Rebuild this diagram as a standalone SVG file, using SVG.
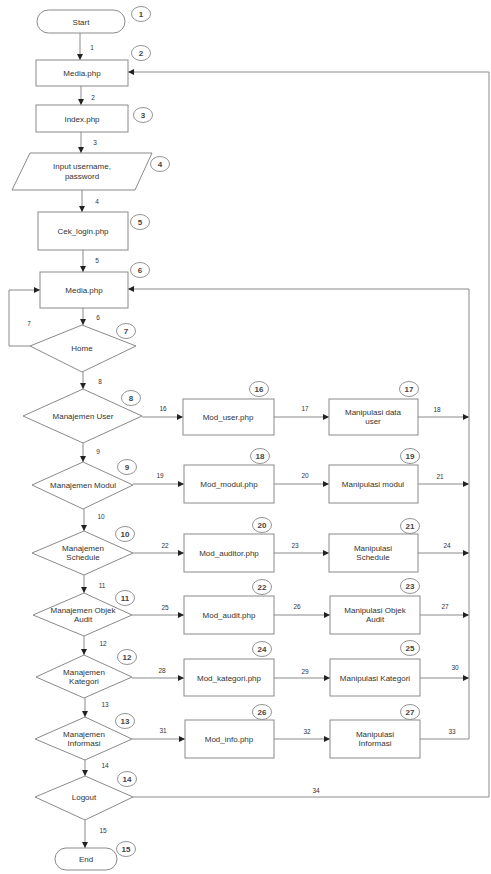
<svg xmlns="http://www.w3.org/2000/svg" width="491" height="874" viewBox="0 0 491 874">
<style>
.b{fill:#fff;stroke:#8a8a8a;stroke-width:1}
.t{font-family:"Liberation Sans",Arial,sans-serif;font-size:8px;fill:#333;text-anchor:middle}
.n{font-family:"Liberation Sans",Arial,sans-serif;font-size:6.5px;fill:#333;text-anchor:middle}
.c{fill:#fff;stroke:#888;stroke-width:0.9}
.ct{font-family:"Liberation Sans",Arial,sans-serif;font-size:8px;font-weight:bold;fill:#444;text-anchor:middle}
.l{fill:none;stroke:#8a8a8a;stroke-width:1}
.a{marker-end:url(#ah)}
</style>
<defs>
<marker id="ah" viewBox="0 0 10 10" refX="10" refY="5" markerWidth="6" markerHeight="6" orient="auto" markerUnits="userSpaceOnUse">
<path d="M0,0 L10,5 L0,10 z" fill="#222"/>
</marker>
</defs>
<rect width="491" height="874" fill="#fff"/>
<g id="connectors">
<line class="l a" x1="80" y1="33" x2="80" y2="60"/>
<line class="l a" x1="81" y1="86" x2="81" y2="105"/>
<line class="l a" x1="81" y1="132" x2="81" y2="153"/>
<line class="l a" x1="82" y1="190" x2="82" y2="212"/>
<line class="l a" x1="83" y1="250" x2="83" y2="272"/>
<line class="l a" x1="83" y1="308" x2="83" y2="325"/>
<polyline class="l a" points="30,346 9,346 9,290 40,290"/>
<line class="l a" x1="83" y1="372" x2="83" y2="389"/>
<line class="l a" x1="83" y1="443" x2="83" y2="462"/>
<line class="l a" x1="84" y1="509" x2="84" y2="531"/>
<line class="l a" x1="84" y1="575" x2="84" y2="593"/>
<line class="l a" x1="84" y1="636" x2="84" y2="655"/>
<line class="l a" x1="85" y1="698" x2="85" y2="717"/>
<line class="l a" x1="85" y1="760" x2="85" y2="776"/>
<line class="l a" x1="85" y1="820" x2="85" y2="848"/>
<line class="l a" x1="142" y1="417" x2="183" y2="417"/>
<line class="l a" x1="274" y1="417" x2="329" y2="417"/>
<line class="l a" x1="418" y1="417" x2="469" y2="417"/>
<line class="l a" x1="133" y1="484" x2="184" y2="484"/>
<line class="l a" x1="274" y1="484" x2="329" y2="484"/>
<line class="l a" x1="418" y1="484" x2="469" y2="484"/>
<line class="l a" x1="133" y1="553" x2="184" y2="553"/>
<line class="l a" x1="274" y1="553" x2="329" y2="553"/>
<line class="l a" x1="418" y1="553" x2="469" y2="553"/>
<line class="l a" x1="132" y1="615" x2="184" y2="615"/>
<line class="l a" x1="274" y1="615" x2="330" y2="615"/>
<line class="l a" x1="420" y1="615" x2="469" y2="615"/>
<line class="l a" x1="132" y1="678" x2="184" y2="678"/>
<line class="l a" x1="274" y1="678" x2="330" y2="678"/>
<line class="l a" x1="420" y1="678" x2="469" y2="678"/>
<line class="l a" x1="132" y1="739" x2="185" y2="739"/>
<line class="l a" x1="274" y1="739" x2="330" y2="739"/>
<polyline class="l a" points="420,739 469,739 469,289 128,289"/>
<polyline class="l a" points="133,797 489,797 489,72 128,72"/>
<text class="n" x="92" y="50">1</text>
<text class="n" x="93" y="100">2</text>
<text class="n" x="95" y="145">3</text>
<text class="n" x="97" y="204">4</text>
<text class="n" x="97" y="263">5</text>
<text class="n" x="98" y="320">6</text>
<text class="n" x="29" y="326">7</text>
<text class="n" x="100" y="384">8</text>
<text class="n" x="98" y="454">9</text>
<text class="n" x="101" y="519">10</text>
<text class="n" x="102" y="588">11</text>
<text class="n" x="103" y="646">12</text>
<text class="n" x="105" y="707">13</text>
<text class="n" x="105" y="768">14</text>
<text class="n" x="103" y="833">15</text>
<text class="n" x="163" y="411">16</text>
<text class="n" x="305" y="411">17</text>
<text class="n" x="437" y="412">18</text>
<text class="n" x="160" y="478">19</text>
<text class="n" x="305" y="478">20</text>
<text class="n" x="440" y="479">21</text>
<text class="n" x="165" y="548">22</text>
<text class="n" x="295" y="548">23</text>
<text class="n" x="447" y="548">24</text>
<text class="n" x="165" y="610">25</text>
<text class="n" x="297" y="609">26</text>
<text class="n" x="445" y="609">27</text>
<text class="n" x="162" y="673">28</text>
<text class="n" x="305" y="674">29</text>
<text class="n" x="455" y="670">30</text>
<text class="n" x="163" y="733">31</text>
<text class="n" x="307" y="734">32</text>
<text class="n" x="452" y="734">33</text>
<text class="n" x="316" y="793">34</text>
</g>
<g id="n1"><rect class="b" x="37" y="10" width="88" height="23" rx="11.5"/><text class="t" x="81" y="24.5">Start</text><ellipse class="c" cx="141" cy="14" rx="9.5" ry="7.5"/><text class="ct" x="141" y="17">1</text></g>
<g id="n2"><rect class="b" x="36" y="60" width="92" height="26"/><text class="t" x="82" y="76">Media.php</text><ellipse class="c" cx="141" cy="53" rx="9.5" ry="7.5"/><text class="ct" x="141" y="56">2</text></g>
<g id="n3"><rect class="b" x="36" y="105" width="92" height="27"/><text class="t" x="82" y="121.5">Index.php</text><ellipse class="c" cx="143" cy="115" rx="9.5" ry="7.5"/><text class="ct" x="143" y="118">3</text></g>
<g id="n4"><polygon class="b" points="30,153 152,153 135,190 12,190"/><text class="t" x="82" y="169">Input username,</text><text class="t" x="82" y="179">password</text><ellipse class="c" cx="160" cy="164" rx="9.5" ry="7.5"/><text class="ct" x="160" y="167">4</text></g>
<g id="n5"><rect class="b" x="38" y="212" width="90" height="38"/><text class="t" x="83" y="234">Cek_login.php</text><ellipse class="c" cx="140" cy="222" rx="9.5" ry="7.5"/><text class="ct" x="140" y="225">5</text></g>
<g id="n6"><rect class="b" x="40" y="272" width="88" height="36"/><text class="t" x="84" y="293">Media.php</text><ellipse class="c" cx="140" cy="270" rx="9.5" ry="7.5"/><text class="ct" x="140" y="273">6</text></g>
<g id="n7"><polygon class="b" points="82,325 136,346 82,372 30,346"/><text class="t" x="82" y="351">Home</text><ellipse class="c" cx="126" cy="331" rx="9.5" ry="7.5"/><text class="ct" x="126" y="334">7</text></g>
<g id="n8"><polygon class="b" points="83,389 142,416 83,443 23,416"/><text class="t" x="83" y="419">Manajemen User</text><ellipse class="c" cx="131" cy="398" rx="9.5" ry="7.5"/><text class="ct" x="131" y="401">8</text></g>
<g id="n9"><polygon class="b" points="83,462 133,485 83,509 32,485"/><text class="t" x="83" y="488">Manajemen Modul</text><ellipse class="c" cx="127" cy="467" rx="9.5" ry="7.5"/><text class="ct" x="127" y="470">9</text></g>
<g id="n10"><polygon class="b" points="84,531 133,553 84,575 32,553"/><text class="t" x="83" y="551">Manajemen</text><text class="t" x="83" y="560">Schedule</text><ellipse class="c" cx="125" cy="534" rx="9.5" ry="7.5"/><text class="ct" x="125" y="537">10</text></g>
<g id="n11"><polygon class="b" points="84,593 132,615 84,636 33,615"/><text class="t" x="83" y="613">Manajemen Objek</text><text class="t" x="83" y="622">Audit</text><ellipse class="c" cx="125" cy="598" rx="9.5" ry="7.5"/><text class="ct" x="125" y="601">11</text></g>
<g id="n12"><polygon class="b" points="84,655 132,677 84,698 36,677"/><text class="t" x="84" y="675">Manajemen</text><text class="t" x="84" y="684">Kategori</text><ellipse class="c" cx="127" cy="657" rx="9.5" ry="7.5"/><text class="ct" x="127" y="660">12</text></g>
<g id="n13"><polygon class="b" points="85,717 132,739 85,760 35,739"/><text class="t" x="84" y="737">Manajemen</text><text class="t" x="84" y="746">Informasi</text><ellipse class="c" cx="125" cy="721" rx="9.5" ry="7.5"/><text class="ct" x="125" y="724">13</text></g>
<g id="n14"><polygon class="b" points="85,776 133,797 85,820 35,797"/><text class="t" x="84" y="800">Logout</text><ellipse class="c" cx="127" cy="779" rx="9.5" ry="7.5"/><text class="ct" x="127" y="782">14</text></g>
<g id="n15"><rect class="b" x="55" y="848" width="62" height="22" rx="11"/><text class="t" x="86" y="862">End</text><ellipse class="c" cx="126" cy="849" rx="9.5" ry="7.5"/><text class="ct" x="126" y="852">15</text></g>
<g id="n16"><rect class="b" x="183" y="399" width="91" height="36"/><text class="t" x="228" y="420">Mod_user.php</text><ellipse class="c" cx="259" cy="389" rx="9.5" ry="7.5"/><text class="ct" x="259" y="392">16</text></g>
<g id="n17"><rect class="b" x="329" y="399" width="89" height="36"/><text class="t" x="373" y="415">Manipulasi data</text><text class="t" x="373" y="424">user</text><ellipse class="c" cx="409" cy="389" rx="9.5" ry="7.5"/><text class="ct" x="409" y="392">17</text></g>
<g id="n18"><rect class="b" x="184" y="465" width="90" height="38"/><text class="t" x="229" y="487">Mod_modul.php</text><ellipse class="c" cx="260" cy="456" rx="9.5" ry="7.5"/><text class="ct" x="260" y="459">18</text></g>
<g id="n19"><rect class="b" x="329" y="465" width="89" height="38"/><text class="t" x="373" y="487">Manipulasi modul</text><ellipse class="c" cx="410" cy="456" rx="9.5" ry="7.5"/><text class="ct" x="410" y="459">19</text></g>
<g id="n20"><rect class="b" x="184" y="534" width="90" height="38"/><text class="t" x="229" y="556">Mod_auditor.php</text><ellipse class="c" cx="262" cy="525" rx="9.5" ry="7.5"/><text class="ct" x="262" y="528">20</text></g>
<g id="n21"><rect class="b" x="329" y="534" width="89" height="38"/><text class="t" x="373" y="551">Manipulasi</text><text class="t" x="373" y="560">Schedule</text><ellipse class="c" cx="410" cy="526" rx="9.5" ry="7.5"/><text class="ct" x="410" y="529">21</text></g>
<g id="n22"><rect class="b" x="184" y="596" width="90" height="38"/><text class="t" x="229" y="618">Mod_audit.php</text><ellipse class="c" cx="262" cy="587" rx="9.5" ry="7.5"/><text class="ct" x="262" y="590">22</text></g>
<g id="n23"><rect class="b" x="330" y="596" width="90" height="38"/><text class="t" x="375" y="613">Manipulasi Objek</text><text class="t" x="375" y="622">Audit</text><ellipse class="c" cx="410" cy="586" rx="9.5" ry="7.5"/><text class="ct" x="410" y="589">23</text></g>
<g id="n24"><rect class="b" x="184" y="659" width="90" height="37"/><text class="t" x="229" y="681">Mod_kategori.php</text><ellipse class="c" cx="262" cy="649" rx="9.5" ry="7.5"/><text class="ct" x="262" y="652">24</text></g>
<g id="n25"><rect class="b" x="330" y="659" width="90" height="37"/><text class="t" x="375" y="681">Manipulasi Kategori</text><ellipse class="c" cx="410" cy="648" rx="9.5" ry="7.5"/><text class="ct" x="410" y="651">25</text></g>
<g id="n26"><rect class="b" x="185" y="720" width="89" height="38"/><text class="t" x="229" y="742">Mod_info.php</text><ellipse class="c" cx="262" cy="712" rx="9.5" ry="7.5"/><text class="ct" x="262" y="715">26</text></g>
<g id="n27"><rect class="b" x="330" y="720" width="90" height="38"/><text class="t" x="375" y="737">Manipulasi</text><text class="t" x="375" y="746">Informasi</text><ellipse class="c" cx="410" cy="712" rx="9.5" ry="7.5"/><text class="ct" x="410" y="715">27</text></g>
</svg>
